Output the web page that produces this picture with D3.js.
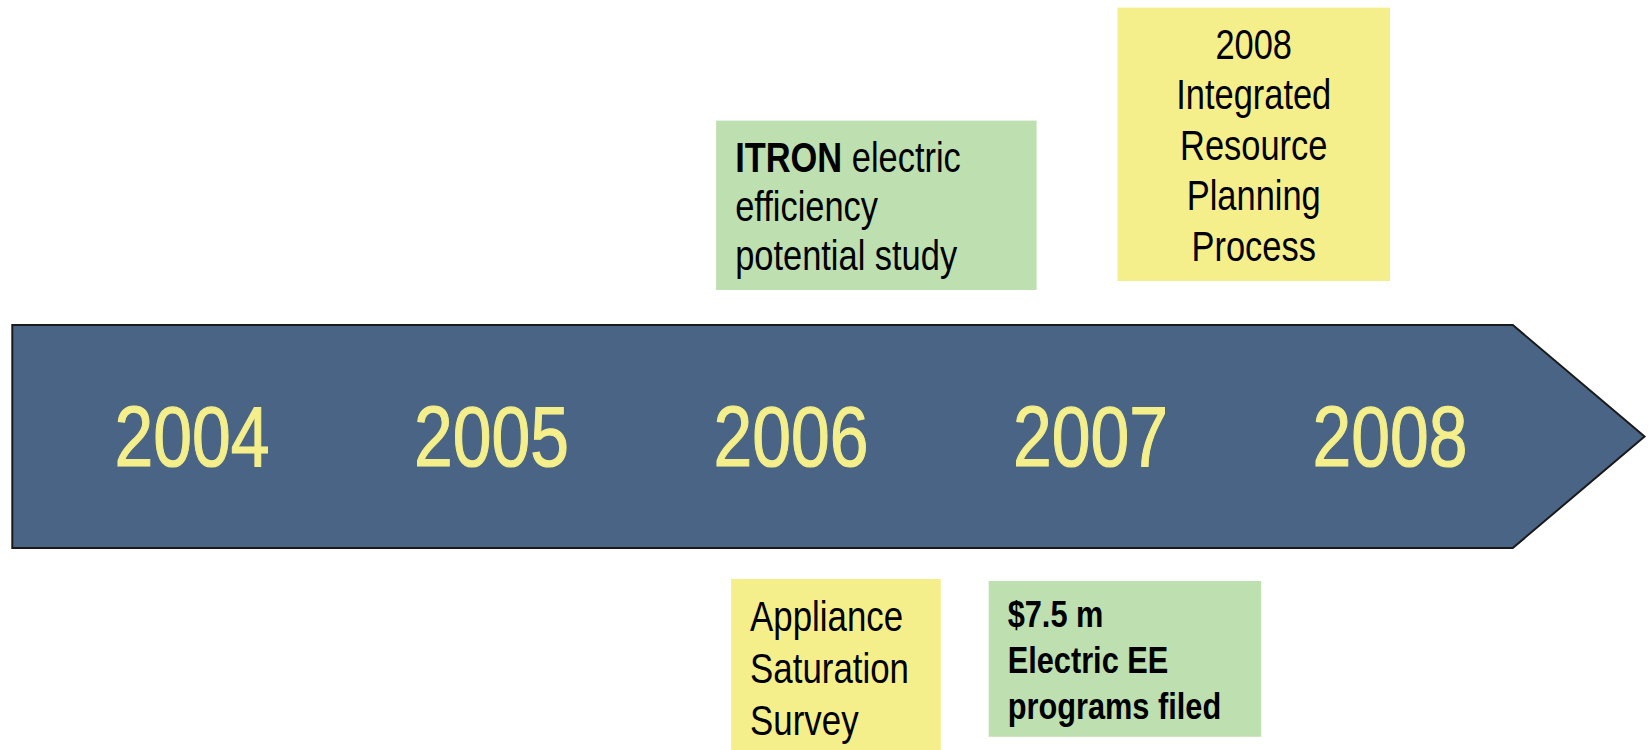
<!DOCTYPE html>
<html lang="en">
<head>
	<meta charset="utf-8">
	<script src="https://d3js.org/d3.v7.min.js"></script>
	<style type="text/css">
		body { margin: 0; background: #fff; }
		svg text { font-family: "Liberation Sans", Arial, sans-serif; }
	</style>
</head>
<body>
	<script type="text/javascript">

	// timeline years
	var years = [2004, 2005, 2006, 2007, 2008];

	// events: text lines (segments of [text, bold]), span on the timeline, side, kind
	var eventLines = [
		[[["ITRON", true], [" electric", false]], [["efficiency", false]], [["potential study", false]]],
		[[["2008", false]], [["Integrated", false]], [["Resource", false]], [["Planning", false]], [["Process", false]]],
		[[["Appliance", false]], [["Saturation", false]], [["Survey", false]]],
		[[["$7.5 m", true]], [["Electric EE", true]], [["programs filed", true]]]
	];
	var eventStart = [2005.75, 2007.09, 2005.80, 2006.66];
	var eventEnd   = [2006.82, 2008.00, 2006.50, 2007.57];
	var eventSide  = ["above", "above", "below", "below"];
	var eventKind  = ["study", "plan", "survey", "program"];

	var width = 1649, height = 750;
	var arrowTop = 325, arrowBottom = 548;
	var narrow = 0.82; // no Arial Narrow here, so squeeze Liberation Sans

	var x = d3.scaleLinear().domain([2004, 2008]).range([192, 1390]);
	var fill = d3.scaleOrdinal()
		.domain(["study", "plan", "survey", "program"])
		.range(["#bedfb0", "#f4ef8b", "#f4ef8b", "#bedfb0"]);

	// text style per kind
	var styles = {
		study:   {size: 42, lh: 49, bold: false, align: "start", gap: 35},
		plan:    {size: 42, lh: 50.5, bold: false, align: "middle", gap: 44},
		survey:  {size: 42.5, lh: 52, bold: false, align: "start", gap: 31},
		program: {size: 37.5, lh: 46, bold: true, align: "start", gap: 33}
	};

	var svg = d3.select("body").append("svg")
		.attr("width", width)
		.attr("height", height);

	// the arrow
	var ax0 = x(2003.4), ax1 = x(2008.41), ax2 = x(2008.85);
	var mid = (arrowTop + arrowBottom) / 2;
	svg.append("path")
		.attr("d", "M" + ax0 + "," + arrowTop + "L" + ax1 + "," + arrowTop + "L" + ax2 + "," + mid +
			"L" + ax1 + "," + arrowBottom + "L" + ax0 + "," + arrowBottom + "Z")
		.style("fill", "#4a6485")
		.style("stroke", "#1a1a1a")
		.style("stroke-width", 2);

	svg.selectAll("text.year")
		.data(years)
		.enter()
		.append("text")
		.attr("class", "year")
		.attr("transform", function(d) { return "translate(" + x(d) + "," + mid + ") scale(" + narrow + ",1)"; })
		.attr("dy", ".35em")
		.attr("text-anchor", "middle")
		.style("font-size", "85px")
		.style("fill", "#f4ef8a")
		.style("stroke", "#f4ef8a")
		.style("stroke-width", 1.2)
		.text(function(d) { return d; });

	// event boxes
	var events = eventLines.map(function(lines, i) {
		return {lines: lines, start: eventStart[i], end: eventEnd[i], side: eventSide[i], kind: eventKind[i]};
	});

	var box = svg.selectAll("g.event")
		.data(events)
		.enter()
		.append("g")
		.attr("class", "event");

	box.each(function(d) {
		var st = styles[d.kind];
		var g = d3.select(this);
		var h = st.size * 1.22 + (d.lines.length - 1) * st.lh + st.size * 0.48;
		var top = d.side == "above" ? arrowTop - st.gap - h : arrowBottom + st.gap;
		var left = x(d.start), w = x(d.end) - x(d.start);

		g.append("rect")
			.attr("x", left)
			.attr("y", top)
			.attr("width", w)
			.attr("height", h)
			.style("fill", fill(d.kind));

		var tx = st.align == "middle" ? left + w / 2 : left + 19;
		var t = g.append("text")
			.attr("transform", "translate(" + tx + "," + top + ") scale(" + narrow + ",1)")
			.attr("text-anchor", st.align)
			.style("font-size", st.size + "px")
			.style("fill", "#000");

		d.lines.forEach(function(line, j) {
			var ty = st.size * 1.22 + j * st.lh;
			line.forEach(function(seg, k) {
				var s = t.append("tspan")
					.style("font-weight", (seg[1] || st.bold) ? "bold" : "normal")
					.text(seg[0]);
				if (k == 0) s.attr("x", 0).attr("y", ty);
			});
		});
	});
	</script>
</body>
</html>
